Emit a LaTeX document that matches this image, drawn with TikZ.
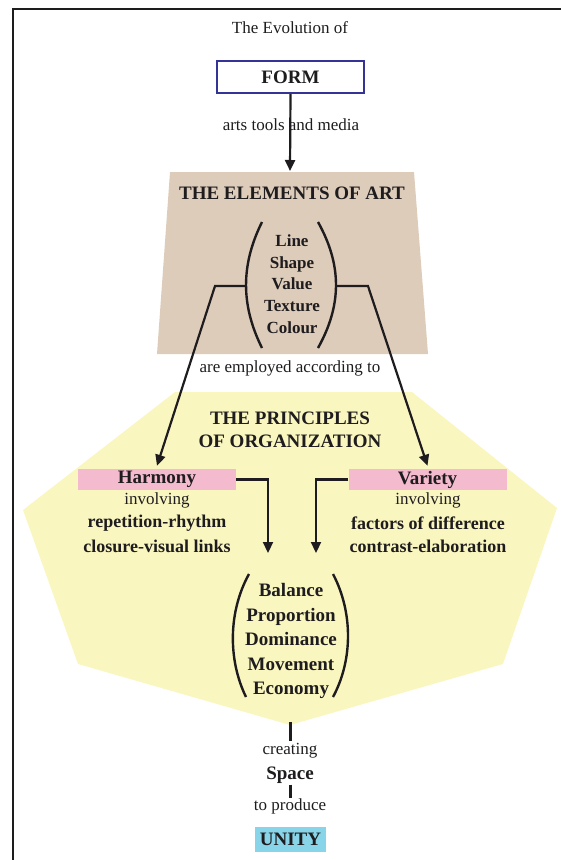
\documentclass[tikz,border=0pt]{standalone}
\usepackage{fontspec}
\setmainfont{Liberation Serif}
\usetikzlibrary{arrows.meta}
\definecolor{ink}{RGB}{30,28,30}
\definecolor{beige}{RGB}{221,204,186}
\definecolor{paleyellow}{RGB}{250,246,192}
\definecolor{pinkbox}{RGB}{244,186,206}
\definecolor{cyanbox}{RGB}{136,212,232}
\definecolor{formblue}{RGB}{52,52,150}
\begin{document}
\begin{tikzpicture}[x=1pt,y=-1pt,
  every node/.style={inner sep=0pt, text=ink},
  reg/.style={font=\fontsize{17}{20}\selectfont},
  bld/.style={font=\fontsize{18}{22}\selectfont\bfseries},
  head/.style={font=\fontsize{19}{23.5}\selectfont\bfseries, align=center},
  arr/.style={line width=2.2pt, draw=ink, -{Triangle[length=11pt,width=10pt]}},
  ln/.style={line width=2.2pt, draw=ink},
  tick/.style={line width=3pt, draw=ink},
  paren/.style={line width=2.4pt, draw=ink},
  labelbox/.style={minimum width=158pt, minimum height=21pt, fill=pinkbox, font=\fontsize{19}{22}\selectfont\bfseries}]
\useasboundingbox (0,0) rectangle (560,860);
% outer frame
\draw[line width=2.6pt, draw=ink] (13,865) -- (13,9) -- (565,9);

% top
\node[reg] (evo) at (290,28) {The Evolution of};
\node[draw=formblue, line width=2.4pt, minimum width=147pt, minimum height=32pt, font=\fontsize{19}{22}\selectfont\bfseries] (form) at (290.5,77) {FORM};

% elements trapezoid
\fill[beige] (170,172) -- (414,172) -- (428,354) -- (157,354) -- cycle;
\coordinate (eltop) at (290,171);
\draw[arr] (form.south) -- (eltop);
\node[reg] (tools) at (291,125) {arts tools and media};
\node[head] (elhead) at (292,193) {THE ELEMENTS OF ART};
\node[font=\fontsize{17}{21.8}\selectfont\bfseries, align=center] (ellist) at (292,284) {Line\\Shape\\Value\\Texture\\Colour};
\draw[paren] (262,222) .. controls (240.7,265) and (240.7,305) .. (262,348);
\draw[paren] (318,222) .. controls (342,265) and (342,305) .. (318,348);
\coordinate (elL) at (246,286);
\coordinate (elR) at (336,286);
\coordinate (lbend) at (215,286);
\coordinate (rbend) at (368,286);
\node[reg] (employ) at (290,368) {are employed according to};

% principles polygon
\fill[paleyellow] (175,392) -- (412,392) -- (557,508) -- (503,664) -- (290,725) -- (78,664) -- (23,510) -- cycle;
\node[head] (prhead) at (290,430) {THE PRINCIPLES\\OF ORGANIZATION};

\node[labelbox] (harm) at (157,479.5) {Harmony};
\node[labelbox] (var) at (427.5,479.5) {Variety};
\draw[arr] (elL) -- (lbend) -- ([yshift=3pt]harm.north);
\draw[arr] (elR) -- (rbend) -- ([yshift=3pt]var.north);

\node[reg] (hinv) at (157,500) {involving};
\node[bld] (hrep) at (157,523) {repetition-rhythm};
\node[bld] (hclo) at (157,546.5) {closure-visual links};
\node[reg] (vinv) at (428,500) {involving};
\node[bld] (vfac) at (428,523) {factors of difference};
\node[bld] (vcon) at (428,546.5) {contrast-elaboration};

\coordinate (hdown) at (268,553);
\coordinate (vdown) at (316,553);
\draw[arr] (harm.east) -| (hdown);
\draw[arr] (var.west) -| (vdown);

\node[font=\fontsize{19}{24.5}\selectfont\bfseries, align=center] (prlist) at (291,641) {Balance\\Proportion\\Dominance\\Movement\\Economy};
\draw[paren] (249,574) .. controls (228,612) and (228,660) .. (246,697);
\draw[paren] (333,574) .. controls (353,612) and (353,660) .. (333,697);

% bottom chain
\coordinate (prbot) at (290,722);
\node[reg] (creating) at (290,751) {creating};
\node[font=\fontsize{19}{22}\selectfont\bfseries] (space) at (290,775) {Space};
\node[reg] (produce) at (290,806) {to produce};
\node[fill=cyanbox, minimum width=71pt, minimum height=25pt, font=\fontsize{19}{22}\selectfont\bfseries] (unity) at (290.5,839) {UNITY};
\draw[tick] (prbot) -- ([yshift=2pt]creating.north);
\draw[tick] ([yshift=-1pt]space.south) -- ([yshift=0pt]produce.north);
\end{tikzpicture}
\end{document}
